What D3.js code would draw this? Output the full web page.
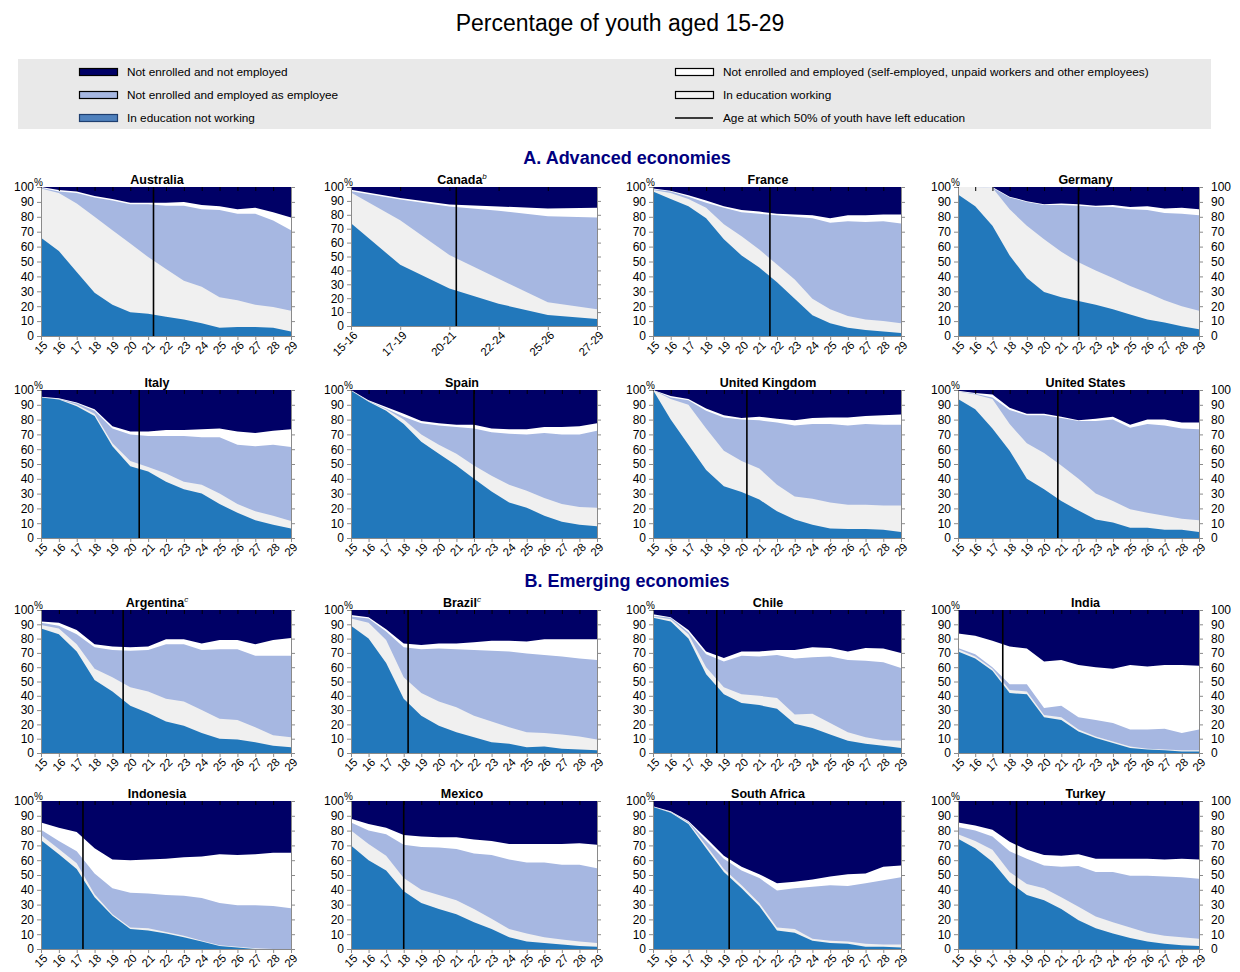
<!DOCTYPE html>
<html><head><meta charset="utf-8">
<script src="https://cdn.jsdelivr.net/npm/d3@7"></script>
<style>
body{margin:0;background:#fff;}
svg text{font-family:"Liberation Sans",Arial,sans-serif;}
</style></head><body>
<svg id="c" width="1240" height="972"></svg>
<script>
// ---------- categories / labels ----------
const ageLabels = ["15","16","17","18","19","20","21","22","23","24","25","26","27","28","29"];
const ages = [15,16,17,18,19,20,21,22,23,24,25,26,27,28,29];
const canadaLabels = ["15-16","17-19","20-21","22-24","25-26","27-29"];
const canadaAges = [15.5,18,20.5,23,25.5,28]; // mid-age of each group
const yTicks = [0,10,20,30,40,50,60,70,80,90,100];
const seriesNames = ["In education not working","In education working","Not enrolled and employed as employee",
  "Not enrolled and employed (self-employed, unpaid workers and other employees)","Not enrolled and not employed"];

// ---------- data: cumulative tops (%) of the four lower layers; top layer fills to 100 ----------
// rows: [in education not working, + in education working, + employed as employee, + other employed]
const australia = [
 [66,57,43,29,21,16,15,13,11,8.5,5.5,6,6,5.5,3],
 [99,96,89,80,71,62,53,45,37,33,26,24,21,19.5,17],
 [99.5,97,96,93,91,88.5,88.5,87.5,87.5,85,84.5,82,82,77.5,71],
 [100,98,97,94,92,89.5,89.5,89.5,90,88,87,85,86,83,79.5]];
const canada = [
 [74,44,27,16,8,5],
 [96,76,51,34,17,12],
 [97,91,86,83,79,78],
 [98,92,87.5,86,84.5,85]];
const france = [
 [97,92,87,79,65,54,46,36,25,14,8.5,5.5,4,3,2],
 [98,96,92,86,75,67,58,48,38,25,18,13.5,11,10,8.5],
 [98.5,97,93.5,89.5,86,83,82,81,80,79,76,77,76.5,77,75.5],
 [99,97.5,94.5,91,87,84.5,83.5,82,81.5,81,79,81,81,81.5,81.5]];
const germany = [
 [95,87,74,54,39,29.5,26,23.5,21,18,14.5,11,9,6.5,4.5],
 [100,100,99.5,85,74,65,56.5,49.5,44,39,33.5,29,24,20,17],
 [100,100,99.5,93,90,88,88,87.5,86.5,86.5,85,84.5,82.5,82,81],
 [100,100,100,93.5,90.5,88.5,89,88.5,87.5,88,86.5,87,85.5,86,85]];
const italy = [
 [95,93.5,89,82.5,62,48.5,45,38,33,30,23,17,12,9,6.5],
 [95,94,90,84,64,52,48,43.5,38,36,30,23,18,15,11.5],
 [95,94,91,86,74,70,69,69,69,68,68,63,62,63,61.5],
 [95.5,94.5,91.5,87,75.5,72,72,73,73,73.5,74,72,71,72.5,73.5]];
const spain = [
 [99.5,92,86,77,65,57,49,40,31.5,24,20.5,15,11,9,8],
 [99.5,92.5,87,80,70,63,57,49,42,36,32,27,23,21,20.5],
 [99.5,92.5,87.5,82,77.5,76,75,74,71.5,70.5,70,71,70,70,72.5],
 [100,93,88.5,84,79,77.5,76.5,76.5,74,73.5,73.5,75,75,75.5,77.5]];
const unitedKingdom = [
 [100,80,63,46,35,31,26,18,12.5,9,6.5,6,6,5.5,4],
 [100,94,90,74,59,52,47,36,28,26.5,24,22.5,22.5,22,22],
 [100,95,93,86,81.5,80,79.5,78,76,77,77,76,77,76.5,76.5],
 [100,96,94,87.5,83,81,82,80.5,79.5,81,81.5,81.5,82.5,83,83.5]];
const unitedStates = [
 [94,87,74,59,40,33,25,18.5,12.5,10.5,7,7,5.5,5.5,4],
 [99,97,94,77,64,57.5,49,40,30,25,19.5,17,15,13,12],
 [99,97.5,95,86.5,83,83,81,79,79,80,74.5,77,76,74,73.5],
 [99.5,98,97,88,84,84,82,79.5,80.5,82,76.5,80,80,78,78]];
const argentina = [
 [87,83,71,51,43,33,28,22,19,14,10,9.5,7.5,5,4],
 [89.5,87,76,59,53,46,43,38,36,30,24,23,18,12.5,11],
 [91,89,83,74,72,71.5,72,76,76,72,72.5,72.5,68,68,68],
 [92,91,86,76,74.5,74,74.5,79.5,79.5,76.5,79,79,76,79,80.5]];
const brazil = [
 [89,80,63,38,26,19,14.5,11,7.5,6.5,4,4.5,3,2.5,2],
 [94,91,79,53,42,36,32,26,22,18,14.5,14,13,11.5,9.5],
 [95.5,94,85,74,72.5,73,72.5,72,71.5,71,69.5,68.5,67.5,66,65],
 [96.5,95,86.5,76.5,75.5,76.5,76.5,77.5,78.5,78.5,78,79.5,79.5,79.5,79.5]];
const chile = [
 [94.5,92,80,55,41,35,33.5,31,20.5,17.5,13,8.5,6.5,5,3.5],
 [95.5,93.5,83,60,46,41,40,38.5,27,27.5,21,14.5,11,9,8.5],
 [96,94.5,84.5,69,64,68,67.5,68.5,66,67,67.5,65,64.5,63.5,59.5],
 [97,95,86,71,66.5,71,71,72,72,74,73.5,71,73.5,73,70]];
const india = [
 [71,66,57.5,42,41,25,23,15,10.5,7,3.5,2.5,2,1,1],
 [72.5,67.5,59,44,43,26.5,25,16.5,11.5,8,4.5,3,2.5,2,2],
 [73.5,69,60,48,48,31.5,33,25,23,21,16.5,16.5,17,14,16.5],
 [83.5,82,78.5,74.5,73,64,65,61.5,60,59,61.5,60.5,61.5,61.5,61]];
const indonesia = [
 [73.5,64,54,35,22.5,13.5,12.5,10.5,8,5,2,1,0,0,0],
 [77,67.5,58,37,23.5,14.5,14,11.5,9,5.5,2.5,1.5,0.5,0,0],
 [80.5,73,66,51,41,38,37.5,36.5,36,34.5,31,29.5,29.5,29,27.5],
 [85.5,82,79,68,60.5,60,60.5,61,62,62.5,64,63.5,64,65,65]];
const mexico = [
 [70,60,53,39,31,27,23.5,18,13.5,8,5,4,3,2,1.5],
 [80,71,63,48,40,36.5,33,27,20.5,13.5,10.5,8,6.5,5,4],
 [85.5,80,77.5,70.5,69,68.5,67.5,64.5,63.5,60.5,58.5,58.5,57,57,54.5],
 [88,84.5,82,77,76,75.5,75.5,74,73,71,71,71,71,71.5,70.5]];
const southAfrica = [
 [96,92,84.5,68,52,41,29,12.5,11,5.5,4,3.5,1.5,1.5,1],
 [96,92.5,85.5,70,54,43,31,14.5,13.5,7,5.5,5,3.5,3,3],
 [96,92.5,86,73,61,53,48,39.5,41,42,43,42.5,44.5,46.5,48.5],
 [96.5,93,86.5,75,63,55.5,50.5,44.5,45.5,47,49,50.5,51,55.5,56.5]];
const turkey = [
 [74.5,68,59,45,36.5,33,27,19.5,14,10.5,7.5,5,3.5,2.5,2],
 [77.5,73,67,52,44,41,35,28.5,22,18,14.5,11,9,8,7],
 [82.5,80,76,66,61,56.5,55.5,56,52,52,49.5,49.5,49,48.5,47.5],
 [85.5,83.5,80.5,72.5,67,63.5,63,64,61,61,61,61,60.5,61,60.5]];

// age at which 50% of youth have left education
const leaveAge = {Australia:21.3, Canada:20.85, France:21.6, Germany:22, Italy:20.5, Spain:22,
  "United Kingdom":20.3, "United States":20.8, Argentina:19.6, Brazil:18.25, Chile:18.6, India:17.6,
  Indonesia:17.35, Mexico:18, "South Africa":19.3, Turkey:18.4};

const panels = [
 {name:"Australia", sup:"", vals:australia, row:0, col:0},
 {name:"Canada", sup:"b", vals:canada, row:0, col:1, canada:true},
 {name:"France", sup:"", vals:france, row:0, col:2},
 {name:"Germany", sup:"", vals:germany, row:0, col:3},
 {name:"Italy", sup:"", vals:italy, row:1, col:0},
 {name:"Spain", sup:"", vals:spain, row:1, col:1},
 {name:"United Kingdom", sup:"", vals:unitedKingdom, row:1, col:2},
 {name:"United States", sup:"", vals:unitedStates, row:1, col:3},
 {name:"Argentina", sup:"c", vals:argentina, row:2, col:0},
 {name:"Brazil", sup:"c", vals:brazil, row:2, col:1},
 {name:"Chile", sup:"", vals:chile, row:2, col:2},
 {name:"India", sup:"", vals:india, row:2, col:3},
 {name:"Indonesia", sup:"", vals:indonesia, row:3, col:0},
 {name:"Mexico", sup:"", vals:mexico, row:3, col:1},
 {name:"South Africa", sup:"", vals:southAfrica, row:3, col:2},
 {name:"Turkey", sup:"", vals:turkey, row:3, col:3}
];

// ---------- layout & style ----------
const colLeft = [41, 351, 653, 958], colRight = [291, 597, 901, 1199];
const rowTop = [187, 390, 610, 801], rowBottom = [336, 538, 753, 949];
const canadaBottom = 326;
const titleShift = [-9, -12, -9, 7];
const colors = ["#2278bb","#f0f0f0","#a6b7e1","#ffffff","#000066"];
const axisColor = "#8a8a8a";

const svg = d3.select("#c");

svg.append("text").attr("x",620).attr("y",31).attr("text-anchor","middle")
  .attr("font-size",23).text("Percentage of youth aged 15-29");

// legend
svg.append("rect").attr("x",18).attr("y",59).attr("width",1193).attr("height",70).attr("fill","#e9e9e9");
const legendItems = [
 {label:seriesNames[4], fill:colors[4], stroke:"#000", x:79, y:72},
 {label:seriesNames[2], fill:colors[2], stroke:"#000", x:79, y:95},
 {label:seriesNames[0], fill:"#4f81bd", stroke:"#1f3f70", x:79, y:118},
 {label:seriesNames[3], fill:"#ffffff", stroke:"#000", x:675, y:72},
 {label:seriesNames[1], fill:"#f2f2f2", stroke:"#000", x:675, y:95},
 {label:"Age at which 50% of youth have left education", line:true, x:675, y:118}
];
legendItems.forEach(it => {
  if (it.line) {
    svg.append("line").attr("x1",it.x).attr("x2",it.x+38).attr("y1",it.y).attr("y2",it.y)
      .attr("stroke","#000").attr("stroke-width",1.5);
  } else {
    svg.append("rect").attr("x",it.x+0.5).attr("y",it.y-3.5).attr("width",38).attr("height",7)
      .attr("fill",it.fill).attr("stroke",it.stroke).attr("stroke-width",1.2);
  }
  svg.append("text").attr("x",it.x+48).attr("y",it.y+4).attr("font-size",11.8).text(it.label);
});

svg.append("text").attr("x",627).attr("y",164).attr("text-anchor","middle").attr("font-size",18)
  .attr("font-weight","bold").attr("fill","#000080").text("A. Advanced economies");
svg.append("text").attr("x",627).attr("y",587).attr("text-anchor","middle").attr("font-size",18)
  .attr("font-weight","bold").attr("fill","#000080").text("B. Emerging economies");

panels.forEach(p => {
  const L = colLeft[p.col], R = colRight[p.col], T = rowTop[p.row];
  const B = p.canada ? canadaBottom : rowBottom[p.row];
  const cats = p.canada ? canadaLabels : ageLabels;
  const domain = p.canada ? canadaAges : ages;
  const n = cats.length;
  const x = d3.scaleLinear().domain(domain).range(domain.map((d,i) => L + i*(R-L)/(n-1)));
  const y = d3.scaleLinear().domain([0,100]).range([B,T]);
  const g = svg.append("g");
  const idx = d3.range(n);

  // layers painted from the top layer down, each from 0 to its cumulative top
  for (let k = 4; k >= 0; k--) {
    const area = d3.area()
      .x(i => x(domain[i]))
      .y0(() => y(0))
      .y1(i => y(k === 4 ? 100 : p.vals[k][i]));
    g.append("path").datum(idx).attr("d", area).attr("fill", colors[k]);
  }

  // age line
  const la = leaveAge[p.name];
  g.append("line").attr("x1",x(la)).attr("x2",x(la)).attr("y1",y(0)).attr("y2",y(100))
    .attr("stroke","#000").attr("stroke-width",1.6);

  // top inner ticks
  const topAx = g.append("g").attr("transform",`translate(0,${T})`)
    .call(d3.axisBottom(x).tickValues(domain).tickSize(4).tickSizeOuter(0).tickFormat(""));
  topAx.select(".domain").remove();
  topAx.selectAll("line").attr("stroke","#000");

  // left axis
  const left = g.append("g").attr("transform",`translate(${L},0)`)
    .call(d3.axisLeft(y).tickValues(yTicks).tickSize(4).tickSizeOuter(0).tickPadding(3));
  left.select(".domain").attr("stroke",axisColor);
  left.selectAll("line").attr("stroke",axisColor);
  left.selectAll("text").attr("font-size",12).attr("fill","#000")
    .attr("font-family","'Liberation Sans',Arial,sans-serif");
  g.append("text").attr("x",L-7).attr("y",T-1).attr("font-size",10).text("%");

  // right axis
  const right = g.append("g").attr("transform",`translate(${R},0)`)
    .call(d3.axisRight(y).tickValues(yTicks).tickSize(4).tickSizeOuter(0).tickPadding(8)
      .tickFormat(d => p.col === 3 ? d : ""));
  right.select(".domain").attr("stroke",axisColor);
  right.selectAll("line").attr("stroke",axisColor);
  right.selectAll("text").attr("font-size",12).attr("fill","#000")
    .attr("font-family","'Liberation Sans',Arial,sans-serif");

  // bottom axis
  const bottom = g.append("g").attr("transform",`translate(0,${B})`)
    .call(d3.axisBottom(x).tickValues(domain).tickSize(4).tickSizeOuter(0)
      .tickFormat((d,i) => cats[i]));
  bottom.select(".domain").attr("stroke",axisColor);
  bottom.selectAll("line").attr("stroke",axisColor);
  bottom.selectAll("text").attr("font-size",11.5).attr("fill","#000")
    .attr("font-family","'Liberation Sans',Arial,sans-serif")
    .attr("text-anchor","end").attr("x",0).attr("y",0).attr("dy","0.35em")
    .attr("transform","translate(4,7) rotate(-45)");

  // title
  const t = g.append("text").attr("x",(L+R)/2 + titleShift[p.col]).attr("y",T-3)
    .attr("text-anchor","middle").attr("font-size",12.5).attr("font-weight","bold").text(p.name);
  if (p.sup) t.append("tspan").attr("dy",-5).attr("font-size",8).attr("font-style","italic")
    .attr("font-weight","normal").text(p.sup);
});
</script>
</body></html>
